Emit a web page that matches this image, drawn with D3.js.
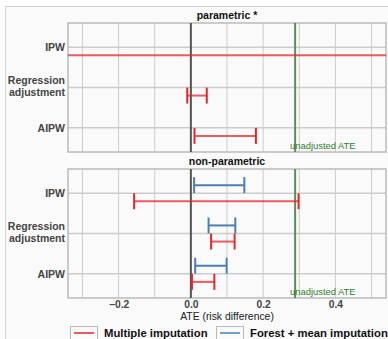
<!DOCTYPE html>
<html>
<head>
<meta charset="utf-8">
<script src="https://cdn.jsdelivr.net/npm/d3@7"></script>
<style>
  body { margin: 0; background: #fff; }
  svg { font-family: "Liberation Sans", Arial, sans-serif; }
</style>
</head>
<body>
<div id="chart"></div>
<script>
// chart data
const methods = ["IPW", "Regression adjustment", "AIPW"];
const panels = ["parametric *", "non-parametric"];
const seriesNames = ["Multiple imputation", "Forest + mean imputation"];
const seriesColors = ["#e8242b", "#4a7fb5"];
// confidence intervals [low, high] per method
const parametricMI = [[-1.0, 1.2], [-0.010, 0.044], [0.010, 0.180]];
const nonparamMI = [[-0.157, 0.298], [0.056, 0.121], [0.003, 0.065]];
const nonparamForest = [[0.009, 0.148], [0.049, 0.123], [0.012, 0.099]];
const unadjustedATE = 0.2885;
const xTicks = [-0.2, 0.0, 0.2, 0.4];
const xGrid = [-0.3, -0.2, -0.1, 0, 0.1, 0.2, 0.3, 0.4, 0.5];

const bars = [];
methods.forEach((m, i) => {
  bars.push({ panel: 0, method: i, series: 0, lo: parametricMI[i][0], hi: parametricMI[i][1] });
  bars.push({ panel: 1, method: i, series: 0, lo: nonparamMI[i][0], hi: nonparamMI[i][1] });
  bars.push({ panel: 1, method: i, series: 1, lo: nonparamForest[i][0], hi: nonparamForest[i][1] });
});

const W = 388, H = 339;
const svg = d3.select("#chart").append("svg")
  .attr("width", W).attr("height", H);

// figure frame
svg.append("rect")
  .attr("x", 5.5).attr("y", 6.5).attr("width", W).attr("height", H)
  .attr("fill", "#fafafa").attr("stroke", "#cfcfcf");

const x = d3.scaleLinear().domain([-0.34, 0.54]).range([68, 386]);
const panelTops = [23, 169];
const panelH = 129;

svg.append("defs").selectAll("clipPath")
  .data(panelTops).join("clipPath")
  .attr("id", (d, i) => "clip" + i)
  .append("rect")
  .attr("x", x.range()[0]).attr("y", d => d)
  .attr("width", x.range()[1] - x.range()[0]).attr("height", panelH);

panels.forEach((title, p) => {
  const top = panelTops[p];
  const y = d3.scaleLinear().domain([-0.6, 2.6]).range([top, top + panelH]);
  const g = svg.append("g");

  g.append("rect")
    .attr("x", x.range()[0]).attr("y", top)
    .attr("width", x.range()[1] - x.range()[0]).attr("height", panelH)
    .attr("fill", "#fafafa");

  // grid
  g.selectAll(".vgrid").data(xGrid).join("line")
    .attr("x1", d => x(d)).attr("x2", d => x(d))
    .attr("y1", top).attr("y2", top + panelH)
    .attr("stroke", "#cccccc").attr("stroke-width", 1);
  g.selectAll(".hgrid").data(methods).join("line")
    .attr("x1", x.range()[0]).attr("x2", x.range()[1])
    .attr("y1", (d, i) => y(i)).attr("y2", (d, i) => y(i))
    .attr("stroke", "#cccccc").attr("stroke-width", 1.5);

  g.append("rect")
    .attr("x", x.range()[0]).attr("y", top)
    .attr("width", x.range()[1] - x.range()[0]).attr("height", panelH)
    .attr("fill", "none").attr("stroke", "#bbbbbb").attr("stroke-width", 1.5);

  // zero line
  g.append("line")
    .attr("x1", x(0)).attr("x2", x(0))
    .attr("y1", top).attr("y2", top + panelH)
    .attr("stroke", "#555").attr("stroke-width", 2);

  // unadjusted ATE
  g.append("line")
    .attr("x1", x(unadjustedATE)).attr("x2", x(unadjustedATE))
    .attr("y1", top).attr("y2", top + panelH)
    .attr("stroke", "#5a8f5a").attr("stroke-width", 2);
  g.append("text")
    .attr("x", x(unadjustedATE) - 5).attr("y", top + panelH - 3)
    .attr("fill", "#2f7d2f").attr("font-size", 9.4)
    .text("unadjusted ATE");

  // error bars
  const eb = g.append("g").attr("clip-path", `url(#clip${p})`)
    .selectAll("g").data(bars.filter(b => b.panel === p)).join("g");
  const by = b => y(b.method + (b.series === 0 ? 0.2 : -0.2));
  eb.append("line")
    .attr("x1", b => x(b.lo)).attr("x2", b => x(b.hi))
    .attr("y1", by).attr("y2", by)
    .attr("stroke", b => seriesColors[b.series])
    .attr("stroke-opacity", b => b.series === 0 ? 0.75 : 1)
    .attr("stroke-width", 2);
  [b => b.lo, b => b.hi].forEach(f => {
    eb.append("line")
      .attr("x1", b => x(f(b))).attr("x2", b => x(f(b)))
      .attr("y1", b => by(b) - 8).attr("y2", b => by(b) + 8)
      .attr("stroke", b => seriesColors[b.series])
      .attr("stroke-width", 2);
  });

  // category labels
  methods.forEach((m, i) => {
    const t = g.append("text")
      .attr("text-anchor", "end").attr("x", 65)
      .attr("font-size", 10.5).attr("font-weight", "bold").attr("fill", "#444");
    if (m === "Regression adjustment") {
      t.append("tspan").attr("x", 65).attr("y", y(i) - 3.5).text("Regression");
      t.append("tspan").attr("x", 65).attr("y", y(i) + 8).text("adjustment");
    } else {
      t.attr("y", y(i) + 3.8).text(m);
    }
  });

  // title
  g.append("text")
    .attr("x", (x.range()[0] + x.range()[1]) / 2).attr("y", top - 4)
    .attr("text-anchor", "middle")
    .attr("font-size", 10.5).attr("font-weight", "bold").attr("fill", "#111")
    .text(title);
});

// x axis
const axis = svg.append("g")
  .attr("transform", `translate(0,${panelTops[1] + panelH})`)
  .call(d3.axisBottom(x).tickValues(xTicks).tickFormat(d3.format(".1f")).tickSize(0).tickPadding(3));
axis.select(".domain").remove();
axis.selectAll("text")
  .attr("font-size", 10.3).attr("font-weight", "bold").attr("fill", "#444")
  .attr("font-family", "Liberation Sans, Arial, sans-serif");

svg.append("text")
  .attr("x", (x.range()[0] + x.range()[1]) / 2).attr("y", 320)
  .attr("text-anchor", "middle").attr("font-size", 10.4).attr("fill", "#222")
  .text("ATE (risk difference)");

// legend
const legendX = [70, 216];
seriesNames.forEach((name, i) => {
  const lg = svg.append("g").attr("transform", `translate(${legendX[i]},326)`);
  lg.append("rect").attr("x", 0.5).attr("y", 0.5).attr("width", 27).attr("height", 16)
    .attr("fill", "#fafafa").attr("stroke", "#bbbbbb");
  lg.append("line").attr("x1", 4).attr("x2", 24).attr("y1", 7).attr("y2", 7)
    .attr("stroke", seriesColors[i]).attr("stroke-width", 1.5);
  lg.append("text").attr("x", 34).attr("y", 10.5)
    .attr("font-size", 11.3).attr("font-weight", "bold").attr("fill", "#111")
    .text(name);
});
</script>
</body>
</html>
